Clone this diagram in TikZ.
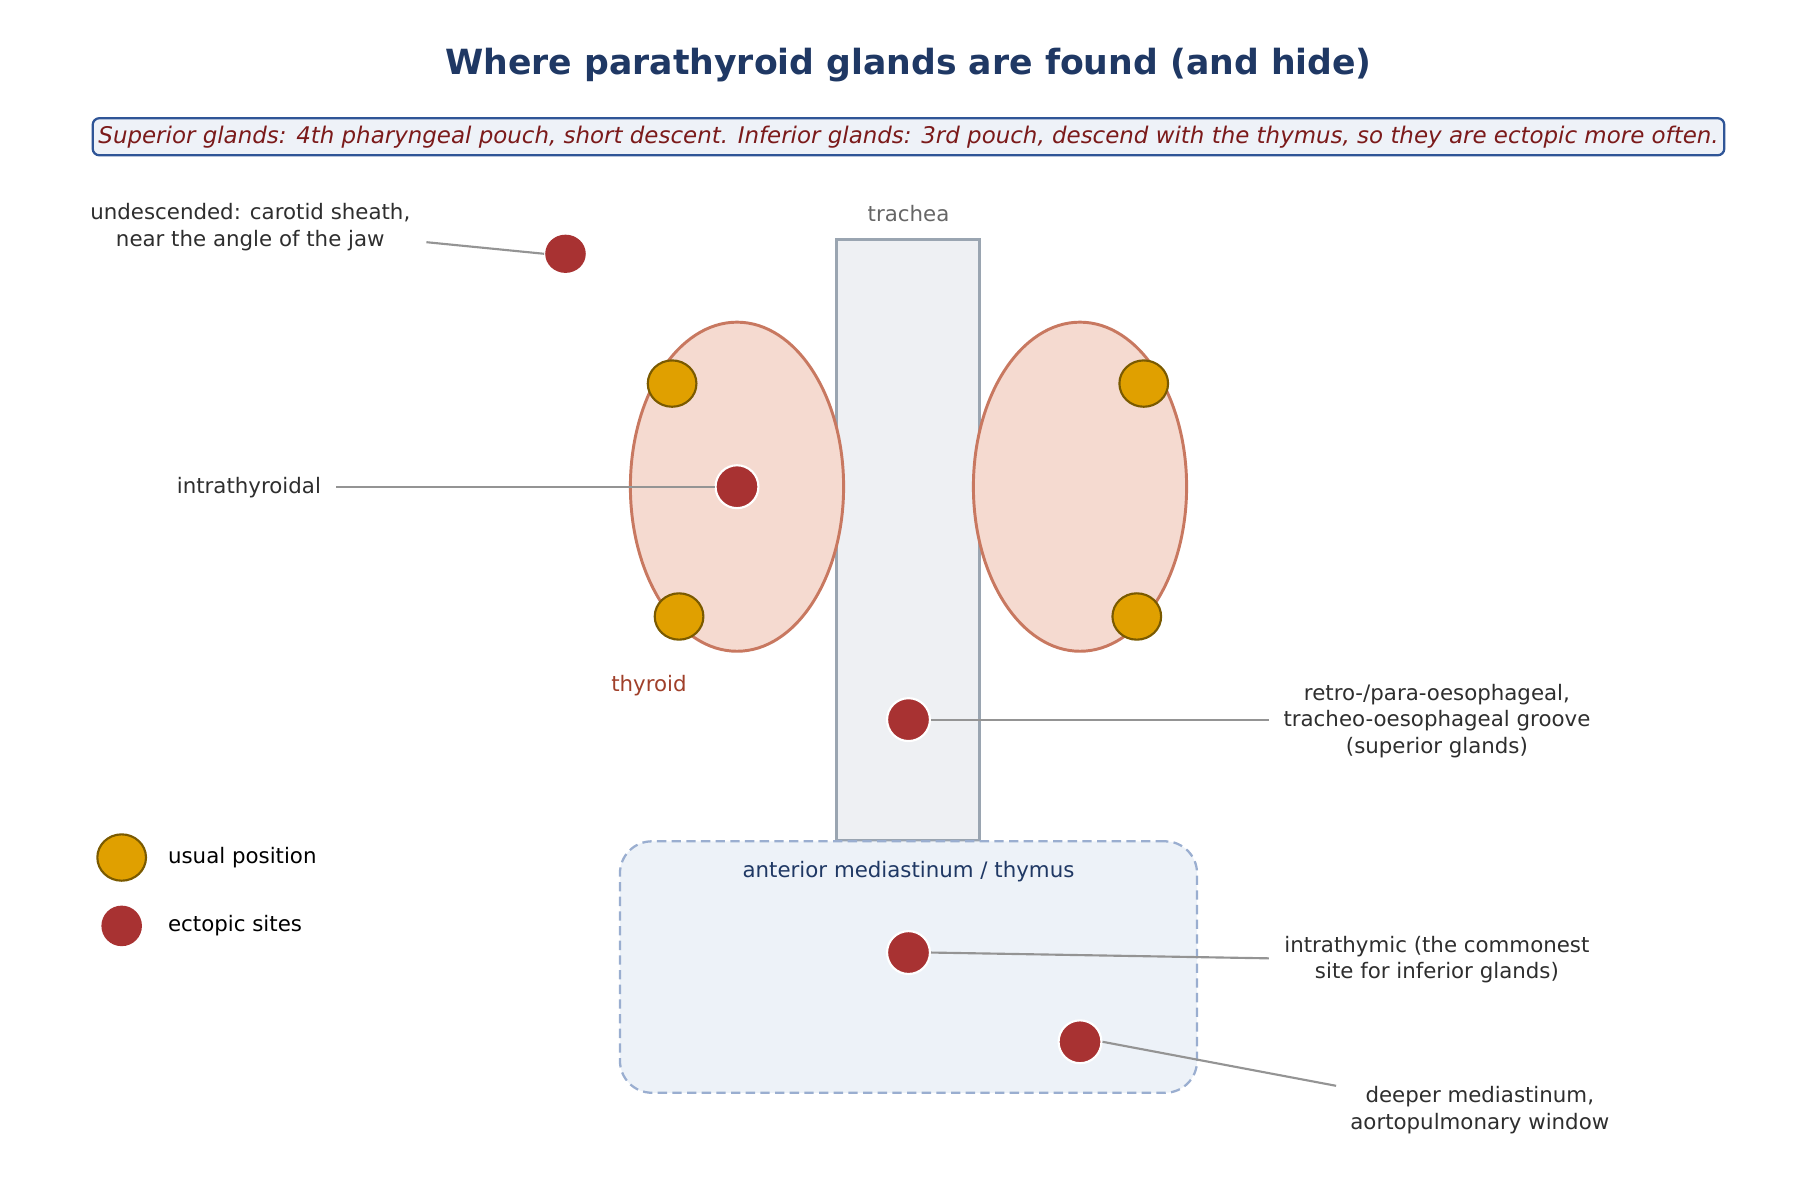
\documentclass[tikz,border=0pt]{standalone}
\usepackage{fontspec}
\setmainfont{DejaVu Sans}
\usetikzlibrary{shapes.geometric}
\definecolor{navy}{HTML}{1F3864}
\definecolor{gold}{HTML}{E0A000}
\definecolor{golddark}{HTML}{7A5A00}
\definecolor{ectc}{HTML}{A83232}
\def\pxu{*0.869pt}
\begin{document}
\begin{tikzpicture}[x=0.869pt,y=-0.869pt,
 lbl/.style={font=\fontsize{16}{20}\selectfont,text=black!82,align=center},
 lead/.style={draw=black!42,line width=1.6pt},
 usual/.style={ellipse,draw=golddark,fill=gold,line width=1.6pt,minimum width=42\pxu,minimum height=40\pxu,inner sep=0},
 ect/.style={circle,fill=ectc,draw=white,line width=1.6pt,minimum size=37\pxu,inner sep=0}]
\useasboundingbox (0,0) rectangle (1568,1031);
\node (title) at (784,56) {\fontsize{26}{30}\selectfont\bfseries\color{navy}Where parathyroid glands are found (and hide)};
\node[draw={rgb,255:red,47;green,85;blue,151},line width=1.7pt,fill={rgb,255:red,238;green,242;blue,248},rounded corners=5pt,minimum width=1408\pxu,minimum height=32\pxu,inner sep=0,font=\fontsize{17.2}{20}\selectfont\itshape,text={rgb,255:red,123;green,26;blue,26}] (sub) at (784,118) {Superior glands: 4th pharyngeal pouch, short descent. Inferior glands: 3rd pouch, descend with the thymus, so they are ectopic more often.};
% trachea
\node[draw={rgb,255:red,154;green,165;blue,177},line width=2.2pt,fill={rgb,255:red,238;green,240;blue,243},minimum width=123\pxu,minimum height=518\pxu,inner sep=0] (trachea) at (783.5,466) {};
\node[font=\fontsize{16}{19}\selectfont,text=black!60] (tl) at (784,184) {trachea};
% mediastinum
\node[draw={rgb,255:red,154;green,174;blue,208},dash pattern=on 7pt off 4pt,line width=1.7pt,fill={rgb,255:red,237;green,242;blue,248},rounded corners=24pt,minimum width=498\pxu,minimum height=217\pxu,inner sep=0] (med) at (784,834.5) {};
\node[font=\fontsize{16}{19}\selectfont,text=navy] (ml) at (784,752) {anterior mediastinum / thymus};
% thyroid lobes
\tikzset{lobe/.style={ellipse,draw={rgb,255:red,200;green,120;blue,96},line width=2.2pt,fill={rgb,255:red,245;green,218;blue,208},minimum width=184\pxu,minimum height=284\pxu,inner sep=0}}
\node[lobe] (lobeL) at (636,420) {};
\node[lobe] (lobeR) at (932,420) {};
\node[font=\fontsize{16}{19}\selectfont,text={rgb,255:red,160;green,64;blue,42}] (thy) at (560,592) {thyroid};
% glands
\node[usual] (g1) at (580,331) {};
\node[usual] (g2) at (586,532) {};
\node[usual] (g3) at (987,331) {};
\node[usual] (g4) at (981,532) {};
\node[ect,draw=none,ellipse,minimum width=35\pxu,minimum height=33\pxu] (e1) at (488,219) {};
\node[ect] (e2) at (636,420) {};
\node[ect] (e3) at (784,621) {};
\node[ect] (e4) at (784,822) {};
\node[ect] (e5) at (932,899) {};
% labels
\node[lbl] (l1) at (216,196) {undescended: carotid sheath,\\near the angle of the jaw};
\coordinate (c1) at (368,209);
\draw[lead] (c1) -- (e1.west);
\node[lbl,anchor=east] (l2) at (281,421) {intrathyroidal};
\coordinate (c2) at (290,420);
\draw[lead] (c2) -- (e2.west);
\node[lbl] (l3) at (1240,622) {retro-/para-oesophageal,\\tracheo-oesophageal groove\\(superior glands)};
\coordinate (c3) at (1095,621);
\draw[lead] (e3.east) -- (c3);
\node[lbl] (l4) at (1240,828) {intrathymic (the commonest\\site for inferior glands)};
\coordinate (c4) at (1095,827);
\draw[lead] (e4.east) -- (c4);
\node[lbl] (l5) at (1277,958) {deeper mediastinum,\\aortopulmonary window};
\coordinate (c5) at (1153,937);
\draw[lead] (e5.east) -- (c5);
% legend
\node[usual] (lg1) at (105,740) {};
\node[lbl,text=black,anchor=west] (lt1) at (141,740) {usual position};
\node[ect,draw=none,minimum size=35\pxu] (lg2) at (105,799) {};
\node[lbl,text=black,anchor=west] (lt2) at (141,799) {ectopic sites};
\end{tikzpicture}
\end{document}
